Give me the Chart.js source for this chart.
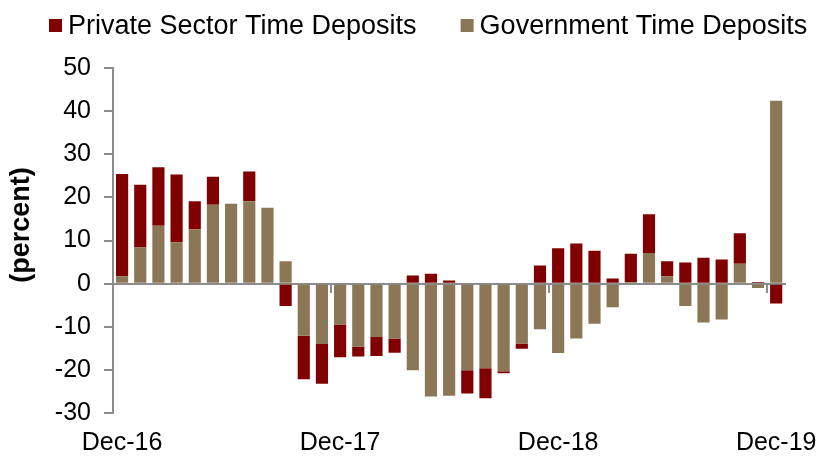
<!DOCTYPE html>
<html>
<head>
<meta charset="utf-8">
<script src="https://cdn.jsdelivr.net/npm/chart.js@4.4.1/dist/chart.umd.min.js"></script>
<style>
html,body{margin:0;padding:0;background:#fff;}
#wrap{width:832px;height:459px;position:relative;}
</style>
</head>
<body>
<div id="wrap"><canvas id="c" width="832" height="459"></canvas></div>
<script>
const categories = [
  'Dec-16','Jan-17','Feb-17','Mar-17','Apr-17','May-17','Jun-17','Jul-17','Aug-17','Sep-17','Oct-17','Nov-17',
  'Dec-17','Jan-18','Feb-18','Mar-18','Apr-18','May-18','Jun-18','Jul-18','Aug-18','Sep-18','Oct-18','Nov-18',
  'Dec-18','Jan-19','Feb-19','Mar-19','Apr-19','May-19','Jun-19','Jul-19','Aug-19','Sep-19','Oct-19','Nov-19',
  'Dec-19'
];
const privateSector = [
  23.7, 14.5, 13.6, 15.7, 6.5, 6.5, 0, 6.9, 0, -5.2, -10.1, -9.2,
  -7.6, -2.3, -4.4, -3.3, 1.9, 2.3, 0.7, -5.4, -7.0, -0.5, -1.2, 4.2,
  8.2, 9.3, 7.6, 1.2, 6.5, 9.0, 3.5, 4.9, 6.0, 5.6, 7.1, 0.4,
  -4.6
];
const government = [
  1.7, 8.4, 13.4, 9.6, 12.6, 18.3, 18.5, 19.1, 17.6, 5.2, -12.1, -14.0,
  -9.5, -14.6, -12.4, -12.7, -20.1, -26.2, -26.0, -20.1, -19.6, -20.3, -13.9, -10.6,
  -16.1, -12.7, -9.3, -5.5, 0.4, 7.1, 1.7, -5.2, -9.0, -8.3, 4.6, -1.0,
  42.4
];
const seriesNames = ['Private Sector Time Deposits', 'Government Time Deposits'];
const yTitle = '(percent)';
const labelEvery = 12;

const FONT = '"Liberation Sans", Arial, Helvetica, sans-serif';
const AXIS_GRAY = '#8c8c8c';
const RED = '#800000';
const TAN = '#8b7755';

Chart.defaults.font.family = FONT;
Chart.defaults.color = '#000';

const customLegend = {
  id: 'customLegend',
  afterDraw(chart) {
    const ctx = chart.ctx;
    ctx.save();
    ctx.font = '27px ' + FONT;
    ctx.textBaseline = 'alphabetic';
    ctx.textAlign = 'left';
    const order = [1, 0];
    let x = 49;
    order.forEach((di) => {
      const ds = chart.data.datasets[di];
      ctx.fillStyle = ds.backgroundColor;
      ctx.fillRect(x, 19, 13, 13);
      ctx.fillStyle = '#000';
      ctx.fillText(ds.label, x + 19, 34);
      x = x + 19 + ctx.measureText(ds.label).width + 44;
    });
    // y axis title
    ctx.font = 'bold 27px ' + FONT;
    ctx.translate(22, 225);
    ctx.rotate(-Math.PI / 2);
    ctx.textAlign = 'center';
    ctx.textBaseline = 'middle';
    ctx.fillText(yTitle, 0, 0);
    ctx.restore();
  }
};

new Chart(document.getElementById('c'), {
  type: 'bar',
  data: {
    labels: categories,
    datasets: [
      { label: seriesNames[1], data: government, backgroundColor: TAN, xAxisID: 'x', yAxisID: 'y' },
      { label: seriesNames[0], data: privateSector, backgroundColor: RED, xAxisID: 'x', yAxisID: 'y' }
    ]
  },
  options: {
    responsive: false,
    animation: false,
    devicePixelRatio: 1,
    barPercentage: 0.67,
    categoryPercentage: 1.0,
    layout: { padding: { top: 68, right: 39, left: 0, bottom: 0 } },
    plugins: { legend: { display: false }, tooltip: { enabled: false } },
    scales: {
      x: {
        type: 'category',
        stacked: true,
        offset: true,
        grid: { display: false, drawTicks: false },
        border: { display: false },
        ticks: {
          autoSkip: false, maxRotation: 0, minRotation: 0, padding: 15,
          color: '#000', font: { size: 25 },
          callback: (v, i) => (i % labelEvery === 0 ? categories[i] : '')
        },
        afterFit(s) { s.height = 46; }
      },
      x2: {
        type: 'category',
        labels: categories,
        position: { y: 0 },
        offset: true,
        grid: {
          offset: true, drawOnChartArea: false, drawTicks: true, tickLength: 8, lineWidth: 2,
          color: (c) => (c.index > 0 && c.index % labelEvery === 0) ? AXIS_GRAY : 'rgba(0,0,0,0)'
        },
        border: { display: true, color: AXIS_GRAY, width: 2 },
        ticks: { display: false }
      },
      y: {
        stacked: true,
        min: -30, max: 50,
        ticks: { stepSize: 10, padding: 13, color: '#000', font: { size: 25 } },
        grid: { drawOnChartArea: false, drawTicks: true, tickLength: 9, color: AXIS_GRAY, lineWidth: 2 },
        border: { color: AXIS_GRAY, width: 2 },
        afterFit(s) { s.width = 113; }
      }
    }
  },
  plugins: [customLegend]
});
</script>
</body>
</html>
